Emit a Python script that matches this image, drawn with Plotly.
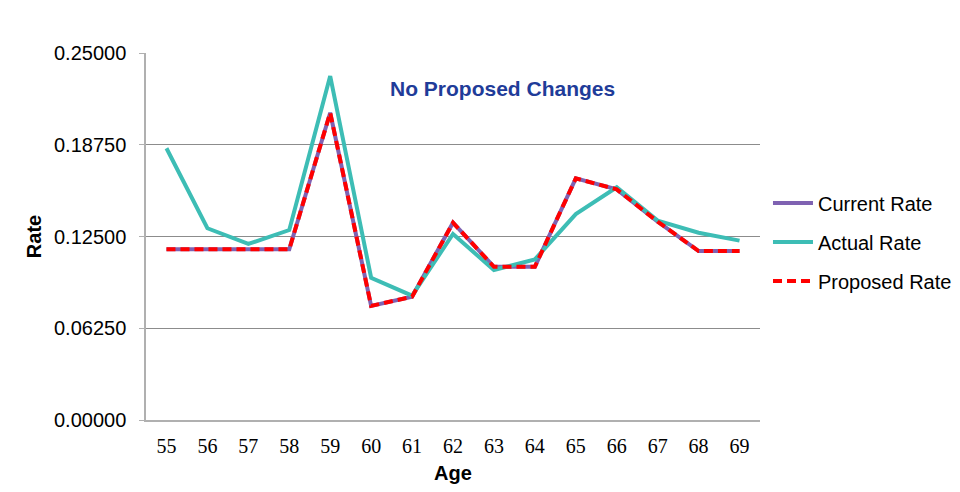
import plotly.graph_objects as go

ages = ["55", "56", "57", "58", "59", "60", "61", "62", "63", "64", "65", "66", "67", "68", "69"]
current_rate = [0.1163, 0.1163, 0.1163, 0.1163, 0.2093, 0.0777, 0.0840, 0.1344, 0.1044, 0.1044, 0.1646, 0.1571, 0.1351, 0.1151, 0.1151]
actual_rate = [0.1851, 0.1306, 0.1199, 0.1294, 0.2343, 0.0969, 0.0847, 0.1267, 0.1022, 0.1094, 0.1403, 0.1585, 0.1358, 0.1276, 0.1222]
proposed_rate = [0.1163, 0.1163, 0.1163, 0.1163, 0.2093, 0.0777, 0.0840, 0.1344, 0.1044, 0.1044, 0.1646, 0.1571, 0.1351, 0.1151, 0.1151]
y_ticks = [0.0, 0.0625, 0.125, 0.1875, 0.25]

FONT = "Arial, Liberation Sans, sans-serif"

fig = go.Figure()
fig.add_trace(go.Scatter(x=ages, y=current_rate, mode="lines", name="Current Rate",
                         legendgroup="a", line=dict(color="#7F62B2", width=4)))
fig.add_trace(go.Scatter(x=ages, y=actual_rate, mode="lines", name="Actual Rate",
                         legendgroup="b", line=dict(color="#3DBDB5", width=4)))
fig.add_trace(go.Scatter(x=ages, y=proposed_rate, mode="lines", name="Proposed Rate",
                         legendgroup="c", line=dict(color="#FF0000", width=4, dash="9px,5px")))

fig.update_layout(
    width=960, height=492,
    margin=dict(l=138, r=208, t=45, b=80, autoexpand=False),
    paper_bgcolor="white", plot_bgcolor="white",
    font=dict(family=FONT, size=20, color="#000000"),
    showlegend=True,
    legend=dict(x=1.013, xanchor="left", y=0.485, yanchor="middle",
                font=dict(family=FONT, size=20),
                itemwidth=40, tracegroupgap=10, bgcolor="rgba(0,0,0,0)"),
    annotations=[dict(text="<b>No Proposed Changes</b>", xref="paper", yref="paper",
                      x=0.581, y=0.902, xanchor="center", yanchor="middle", showarrow=False,
                      font=dict(family=FONT, size=21, color="#1F3C99"))],
)
fig.update_xaxes(
    type="category", range=[-0.5, 14.5],
    showgrid=False, showline=True, linecolor="#B0B0B0", linewidth=1.5,
    ticks="outside", ticklen=7, tickcolor="rgba(0,0,0,0)",
    tickfont=dict(family="Times New Roman, Liberation Serif, serif", size=20),
    title=dict(text="<b>Age</b>", font=dict(family=FONT, size=20), standoff=10),
)
fig.update_yaxes(
    range=[0, 0.25], tickvals=y_ticks, ticktext=[f"{v:.5f}" for v in y_ticks],
    showgrid=True, gridcolor="#8C8C8C", gridwidth=1,
    showline=True, linecolor="#B0B0B0", linewidth=1.5,
    ticks="outside", ticklen=5, tickcolor="#B0B0B0",
    ticklabelstandoff=9, zeroline=False,
    title=dict(text="<b>Rate</b>", font=dict(family=FONT, size=20), standoff=7),
)

fig.write_html("out.html")
